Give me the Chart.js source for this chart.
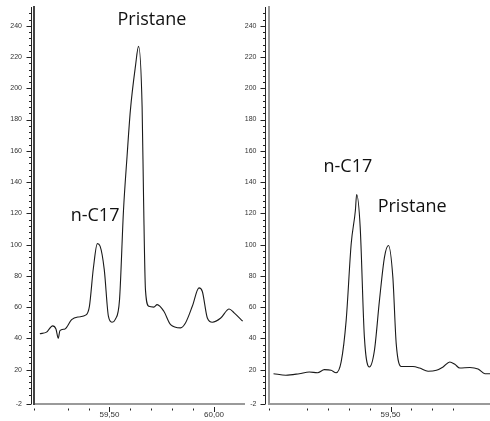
<!DOCTYPE html>
<html>
<head>
<meta charset="utf-8">
<script src="https://cdn.jsdelivr.net/npm/chart.js@4.4.1/dist/chart.umd.min.js"></script>
<style>
  html, body { margin: 0; padding: 0; background: #fff; overflow: hidden; }
  .panel { position: absolute; top: 0; height: 421px; }
  #leftBox { left: 0; width: 245px; }
  #rightBox { left: 243px; width: 247px; }
</style>
</head>
<body>
<div class="panel" id="leftBox"><canvas id="leftChart"></canvas></div>
<div class="panel" id="rightBox"><canvas id="rightChart"></canvas></div>
<script>
// retention time (min) / signal
const leftTimes = [59.167, 59.199, 59.228, 59.244, 59.255, 59.263, 59.287, 59.319, 59.351, 59.388,
  59.404, 59.423, 59.442, 59.455, 59.475, 59.495, 59.512, 59.527, 59.548, 59.567,
  59.584, 59.600, 59.624, 59.639, 59.656, 59.663, 59.672, 59.688, 59.712, 59.728,
  59.760, 59.792, 59.840, 59.864, 59.896, 59.928, 59.944, 59.968, 59.992, 60.032,
  60.072, 60.096, 60.137];
const leftSignal = [43, 44, 48, 46, 40, 45, 46, 52, 53.7, 55,
  60.5, 85, 100.6, 99, 84, 54, 50.3, 52, 64.8, 122,
  156.5, 186, 214, 226.8, 188, 128.7, 71, 60.5, 60, 61.6,
  57.3, 48.8, 46.7, 50, 60.5, 72.3, 70, 53, 50.3, 53,
  58.8, 56.3, 51];

const rightTimes = [58.941, 59.000, 59.064, 59.112, 59.151, 59.184, 59.216, 59.240, 59.264, 59.288,
  59.312, 59.332, 59.338, 59.355, 59.375, 59.399, 59.423, 59.447, 59.471, 59.490,
  59.511, 59.527, 59.551, 59.607, 59.639, 59.679, 59.719, 59.751, 59.783, 59.807,
  59.831, 59.879, 59.918, 59.951, 59.975];
const rightSignal = [17.4, 16.4, 17.4, 18.5, 18, 20, 19.6, 18, 24.9, 51.5,
  100.5, 121.8, 132, 111, 40.8, 21.7, 32.3, 64.3, 92, 99.4,
  79, 36.6, 22, 22, 21, 19, 19.6, 21.7, 24.9, 23.4,
  21, 21.4, 20.4, 17.4, 17.4];

const yLabelValues = [-2, 20, 40, 60, 80, 100, 120, 140, 160, 180, 200, 220, 240];
const leftXLabels = [59.5, 60.0];
const rightXLabels = [59.0, 59.5];

const leftNoteText = ['Pristane', 'n-C17'];
const leftNoteX = [59.703, 59.431];
const leftNoteY = [240.7, 115.3];
const rightNoteText = ['n-C17', 'Pristane'];
const rightNoteX = [59.296, 59.603];
const rightNoteY = [146.3, 120.8];

Chart.defaults.font.family = '"Liberation Sans", Arial, sans-serif';
Chart.defaults.font.size = 8;
Chart.defaults.color = '#333';

function isLabelled(list, v) {
  return list.some(l => Math.abs(l - v) < 1e-6);
}

// second thin axis line with short/long tick marks, like the instrument software
const axisMarks = {
  id: 'axisMarks',
  afterDraw(chart, args, opts) {
    const { ctx, chartArea, scales } = chart;
    ctx.save();
    ctx.strokeStyle = '#222';
    ctx.lineWidth = 1;
    const x0 = Math.round(chartArea.left - 3.5) + 0.5;
    ctx.beginPath();
    ctx.moveTo(x0, scales.y.top);
    ctx.lineTo(x0, scales.y.bottom);
    scales.y.ticks.forEach(t => {
      const py = Math.round(scales.y.getPixelForValue(t.value)) + 0.5;
      const len = isLabelled(yLabelValues, t.value) ? 5 : 2.5;
      ctx.moveTo(x0 - len, py);
      ctx.lineTo(x0, py);
    });
    const y0 = chartArea.bottom + 3;
    scales.x.ticks.forEach(t => {
      const px = Math.round(scales.x.getPixelForValue(t.value)) + 0.5;
      const big = isLabelled(opts.xLabels, t.value);
      ctx.moveTo(px, y0 + (big ? 0 : 1.5));
      ctx.lineTo(px, y0 + (big ? 5 : 3.5));
    });
    ctx.stroke();
    ctx.restore();
  }
};

const notes = {
  id: 'notes',
  afterDatasetsDraw(chart, args, opts) {
    const { ctx, scales } = chart;
    ctx.save();
    ctx.font = '18px "Open Sans", sans-serif';
    ctx.fillStyle = '#111';
    ctx.textAlign = 'center';
    ctx.textBaseline = 'alphabetic';
    opts.text.forEach((t, i) => {
      ctx.fillText(t, scales.x.getPixelForValue(opts.x[i]), scales.y.getPixelForValue(opts.y[i]));
    });
    ctx.restore();
  }
};

function makePanel(id, times, signal, xMin, xMax, xLabels, yWidth, yBorder, noteText, noteX, noteY) {
  return new Chart(document.getElementById(id), {
    type: 'line',
    data: {
      datasets: [{
        data: times.map((t, i) => ({ x: t, y: signal[i] })),
        borderColor: '#1a1a1a',
        borderWidth: 1.1,
        pointRadius: 0,
        cubicInterpolationMode: 'monotone',
        fill: false
      }]
    },
    options: {
      responsive: true,
      maintainAspectRatio: false,
      animation: false,
      events: [],
      layout: { padding: { top: 7, right: 0, bottom: 0, left: 0 } },
      plugins: {
        legend: { display: false },
        tooltip: { enabled: false },
        axisMarks: { xLabels: xLabels },
        notes: { text: noteText, x: noteX, y: noteY }
      },
      scales: {
        x: {
          type: 'linear',
          min: xMin,
          max: xMax,
          grid: { display: true, drawOnChartArea: false, drawTicks: false },
          border: { display: true, color: '#9a9a9a', width: 2 },
          ticks: {
            stepSize: 0.1,
            autoSkip: false,
            maxRotation: 0,
            padding: 6,
            callback: v => isLabelled(xLabels, v) ? v.toFixed(2).replace('.', ',') : ''
          },
          afterFit: s => { s.height = 17; s.paddingLeft = 0; s.paddingRight = 0; }
        },
        y: {
          min: -2,
          max: 252,
          grid: { display: true, drawOnChartArea: false, drawTicks: false },
          border: { display: true, color: yBorder, width: 2 },
          ticks: {
            autoSkip: false,
            padding: 12,
            font: { size: 7 },
            callback: v => isLabelled(yLabelValues, v) ? String(v) : ''
          },
          afterBuildTicks: s => {
            const list = [{ value: -2 }];
            for (let v = 4; v <= 248; v += 4) list.push({ value: v });
            s.ticks = list;
          },
          afterFit: s => { s.width = yWidth; s.paddingTop = 0; s.paddingBottom = 0; }
        }
      }
    },
    plugins: [axisMarks, notes]
  });
}

makePanel('leftChart', leftTimes, leftSignal, 59.139, 60.148, leftXLabels, 34, '#444',
  leftNoteText, leftNoteX, leftNoteY);
makePanel('rightChart', rightTimes, rightSignal, 58.917, 59.975, rightXLabels, 25.5, '#9a9a9a',
  rightNoteText, rightNoteX, rightNoteY);
</script>
</body>
</html>
